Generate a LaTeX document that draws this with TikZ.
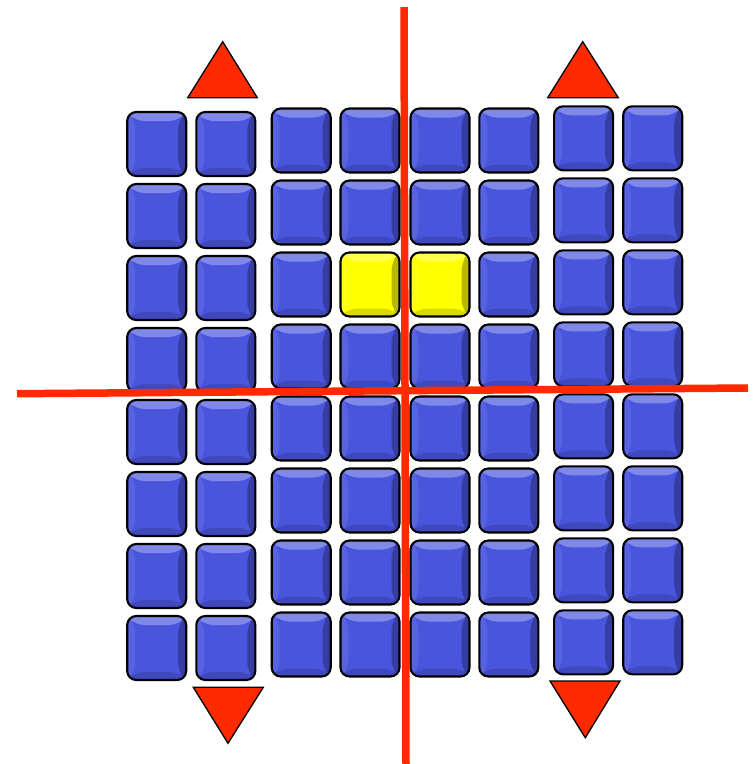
\documentclass[tikz,border=0pt]{standalone}
\usepackage{xcolor}
\usepackage{tikz}
\usetikzlibrary{calc}
\definecolor{TileBlue}  {HTML}{4A55DE}
\definecolor{TileYellow}{HTML}{FFFF00}
\definecolor{CutRed}    {HTML}{FF2A00}

\begin{document}
\begin{tikzpicture}[
  x=1pt, y=-1pt,
  tile/.style={draw=black, line width=2.1pt, rounded corners=9pt, fill=#1,
               minimum width=59pt, minimum height=64pt, inner sep=0pt,
               path picture={
                 \coordinate (nw) at (path picture bounding box.north west);
                 \coordinate (ne) at (path picture bounding box.north east);
                 \coordinate (sw) at (path picture bounding box.south west);
                 \coordinate (se) at (path picture bounding box.south east);
                 \fill[#1!70!white] (nw) -- (ne) -- ([shift={(-8pt,-9pt)}]ne)
                                    -- ([shift={(8pt,-9pt)}]nw) -- cycle;
                 \fill[#1!92!white] (nw) -- ([shift={(8pt,-9pt)}]nw)
                                    -- ([shift={(8pt,8pt)}]sw) -- (sw) -- cycle;
                 \fill[#1!72!black] (ne) -- (se) -- ([shift={(-8pt,8pt)}]se)
                                    -- ([shift={(-8pt,-9pt)}]ne) -- cycle;
                 \fill[#1!85!black] (sw) -- (se) -- ([shift={(-8pt,8pt)}]se)
                                    -- ([shift={(8pt,8pt)}]sw) -- cycle;
               }},
  tri/.style={draw=black, line width=1.3pt, fill=CutRed, line join=miter},
  cut/.style={draw=CutRed, line width=7.5pt}
]
  \useasboundingbox (0,0) rectangle (753,764);

  % the 8x8 block of tiles, outer pairs sit a little lower/higher
  \foreach \cx/\oy [count=\c] in {156.7/144, 225.8/144, 301.2/140.5, 370/140.5,
                                  440/140.5, 508.8/140.5, 583.6/138.3, 652.7/138.3}{
    \foreach \r in {0,...,7}{
      \def\tc{TileBlue}
      \ifnum\r=2 \ifnum\c=4 \def\tc{TileYellow}\fi \ifnum\c=5 \def\tc{TileYellow}\fi\fi
      \node[tile=\tc] (t\c-\r) at (\cx, \oy+72*\r) {};
    }
  }

  % shift markers
  \draw[tri] (222.7,41.7) -- (257.3,97.7) -- (187.7,97.7) -- cycle;
  \draw[tri] (582.7,41.7) -- (618.3,97.7) -- (547.7,97.7) -- cycle;
  \draw[tri] (193.3,687.3) -- (263.3,687.3) -- (228,743.3) -- cycle;
  \draw[tri] (550,681) -- (620,681) -- (585.3,737.7) -- cycle;

  % the two cut lines
  \coordinate (vtop) at (404,7);
  \coordinate (vbot) at (406,764);
  \coordinate (hleft) at (17,393.7);
  \coordinate (hright) at (748,388);
  \draw[cut] (vtop) -- (vbot);
  \draw[cut] (hleft) -- (hright);
\end{tikzpicture}
\end{document}
